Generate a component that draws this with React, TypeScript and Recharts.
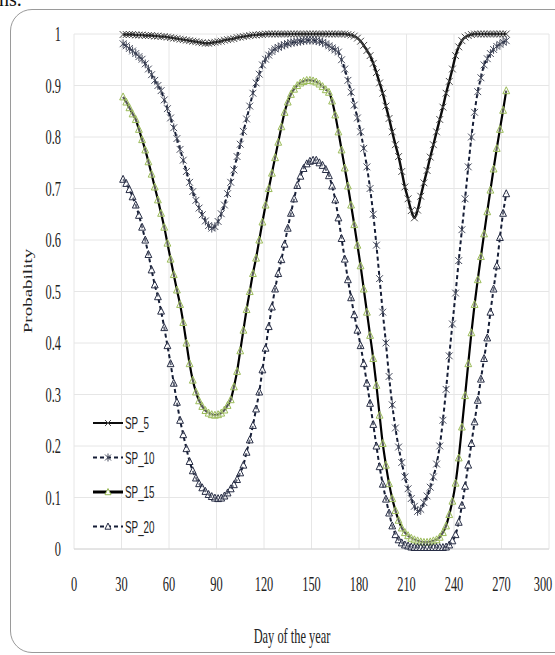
import { CartesianGrid, Line, LineChart, XAxis, YAxis } from "recharts";

// day of year (every second day)
const days = [
  31, 33, 35, 37, 39, 41, 43, 45, 47, 49,
  51, 53, 55, 57, 59, 61, 63, 65, 67, 69,
  71, 73, 75, 77, 79, 81, 83, 85, 87, 89,
  91, 93, 95, 97, 99, 101, 103, 105, 107, 109,
  111, 113, 115, 117, 119, 121, 123, 125, 127, 129,
  131, 133, 135, 137, 139, 141, 143, 145, 147, 149,
  151, 153, 155, 157, 159, 161, 163, 165, 167, 169,
  171, 173, 175, 177, 179, 181, 183, 185, 187, 189,
  191, 193, 195, 197, 199, 201, 203, 205, 207, 209,
  211, 213, 215, 217, 219, 221, 223, 225, 227, 229,
  231, 233, 235, 237, 239, 241, 243, 245, 247, 249,
  251, 253, 255, 257, 259, 261, 263, 265, 267, 269,
  271, 273,
];

const sp5 = [
  0.999, 0.999, 0.999, 0.999, 0.998, 0.998, 0.998, 0.997, 0.997, 0.997,
  0.996, 0.996, 0.995, 0.995, 0.994, 0.993, 0.992, 0.991, 0.99, 0.989,
  0.988, 0.987, 0.986, 0.985, 0.984, 0.983, 0.982, 0.982, 0.983, 0.984,
  0.985, 0.986, 0.988, 0.989, 0.99, 0.991, 0.993, 0.994, 0.995, 0.996,
  0.997, 0.998, 0.998, 0.999, 0.999, 1, 1, 1, 1, 1,
  1, 1, 1, 1, 1, 1, 1, 1, 1, 1,
  1, 1, 1, 1, 1, 1, 1, 1, 1, 1,
  1, 0.999, 0.998, 0.996, 0.992, 0.986, 0.978, 0.968, 0.958, 0.943,
  0.925, 0.905, 0.885, 0.86, 0.836, 0.81, 0.785, 0.762, 0.733, 0.703,
  0.68, 0.657, 0.643, 0.658, 0.685, 0.711, 0.735, 0.761, 0.785, 0.81,
  0.834, 0.858, 0.885, 0.908, 0.932, 0.958, 0.975, 0.987, 0.994, 0.997,
  0.999, 1, 1, 1, 1, 1, 1, 1, 1, 1,
  1, 1,
];

const sp10 = [
  0.981, 0.977, 0.972, 0.967, 0.962, 0.956, 0.951, 0.942, 0.932, 0.921,
  0.91, 0.9, 0.89, 0.872, 0.855, 0.837, 0.818, 0.797, 0.776, 0.755,
  0.733, 0.712, 0.694, 0.677, 0.662, 0.649, 0.637, 0.628, 0.623, 0.626,
  0.636, 0.651, 0.668, 0.69, 0.712, 0.736, 0.762, 0.786, 0.811, 0.835,
  0.86, 0.885, 0.905, 0.922, 0.94, 0.951, 0.959, 0.966, 0.971, 0.974,
  0.977, 0.979, 0.981, 0.983, 0.984, 0.985, 0.986, 0.987, 0.988, 0.988,
  0.988, 0.987, 0.986, 0.984, 0.981, 0.977, 0.973, 0.969, 0.965, 0.95,
  0.932, 0.91, 0.887, 0.862, 0.837, 0.81, 0.778, 0.742, 0.7, 0.65,
  0.59, 0.525, 0.46, 0.4, 0.335, 0.28, 0.235, 0.198, 0.168, 0.14,
  0.117, 0.098, 0.083, 0.073, 0.077, 0.09, 0.103, 0.12, 0.14, 0.165,
  0.2, 0.25, 0.31, 0.375, 0.437, 0.497, 0.56, 0.62, 0.68, 0.742,
  0.8, 0.848, 0.888, 0.915, 0.94, 0.952, 0.962, 0.97, 0.976, 0.98,
  0.984, 0.987,
];

const sp15 = [
  0.878, 0.868, 0.857, 0.845, 0.834, 0.815, 0.795, 0.775, 0.752, 0.728,
  0.703, 0.678, 0.652, 0.625, 0.594, 0.563, 0.533, 0.503, 0.475, 0.44,
  0.4, 0.36, 0.328, 0.305, 0.288, 0.277, 0.269, 0.264, 0.261, 0.26,
  0.261, 0.264, 0.27, 0.279, 0.29, 0.315, 0.345, 0.385, 0.425, 0.465,
  0.5, 0.535, 0.565, 0.6, 0.635, 0.668, 0.7, 0.73, 0.76, 0.79,
  0.82, 0.848, 0.868, 0.883, 0.893, 0.9, 0.905, 0.908, 0.91, 0.91,
  0.909, 0.907, 0.903, 0.898, 0.892, 0.887, 0.87, 0.843, 0.81, 0.775,
  0.74, 0.705, 0.668, 0.63, 0.59, 0.55, 0.505, 0.46, 0.415, 0.37,
  0.318, 0.26, 0.205, 0.163, 0.127, 0.098, 0.075, 0.056, 0.041, 0.032,
  0.026, 0.021, 0.018, 0.016, 0.014, 0.013, 0.013, 0.014, 0.016, 0.018,
  0.023, 0.032, 0.045, 0.067, 0.093, 0.128, 0.177, 0.237, 0.298, 0.36,
  0.42, 0.475, 0.523, 0.568, 0.612, 0.655, 0.697, 0.738, 0.778, 0.815,
  0.852, 0.89,
];

const sp20 = [
  0.718, 0.71, 0.698, 0.684, 0.668, 0.648, 0.625, 0.6, 0.572, 0.542,
  0.513, 0.49, 0.462, 0.43, 0.395, 0.36, 0.322, 0.285, 0.25, 0.222,
  0.195, 0.17, 0.152, 0.138, 0.127, 0.119, 0.112, 0.106, 0.102, 0.099,
  0.098, 0.099, 0.103, 0.109, 0.117, 0.125, 0.135, 0.148, 0.163, 0.188,
  0.212, 0.24, 0.272, 0.305, 0.348, 0.39, 0.432, 0.47, 0.505, 0.535,
  0.562, 0.592, 0.623, 0.652, 0.68, 0.706, 0.724, 0.739, 0.748, 0.753,
  0.755, 0.755, 0.75, 0.745, 0.737, 0.725, 0.705, 0.678, 0.643, 0.603,
  0.563, 0.523, 0.488, 0.455, 0.425, 0.395, 0.36, 0.322, 0.283, 0.242,
  0.2, 0.16, 0.126, 0.097, 0.07, 0.045, 0.028, 0.018, 0.012, 0.008,
  0.006, 0.004, 0.003, 0.003, 0.003, 0.003, 0.003, 0.003, 0.003, 0.003,
  0.003, 0.003, 0.004, 0.008, 0.016, 0.028, 0.052, 0.085, 0.122, 0.163,
  0.205, 0.247, 0.289, 0.33, 0.37, 0.41, 0.46, 0.505, 0.55, 0.605,
  0.652, 0.69,
];

const xTicks = [0, 30, 60, 90, 120, 150, 180, 210, 240, 270, 300];
const yTicks = [0, 0.1, 0.2, 0.3, 0.4, 0.5, 0.6, 0.7, 0.8, 0.9, 1];

const data = days.map((day, i) => ({
  day,
  SP_5: sp5[i],
  SP_10: sp10[i],
  SP_15: sp15[i],
  SP_20: sp20[i],
}));

const SERIF = '"Liberation Serif", "Times New Roman", serif';
const SQUEEZE = 0.62; // the source figure is squeezed horizontally

type Marker = "cross" | "star" | "triangle";

const series: Array<{
  key: string;
  line: string;
  width: number;
  dash?: string;
  marker: Marker;
  markerColor: string;
}> = [
  { key: "SP_5", line: "#0d0d0d", width: 2.4, marker: "cross", markerColor: "#4a4a4a" },
  { key: "SP_10", line: "#151d36", width: 2, dash: "4 3", marker: "star", markerColor: "#454a5c" },
  { key: "SP_15", line: "#000000", width: 2.2, marker: "triangle", markerColor: "#9bbb59" },
  { key: "SP_20", line: "#151d36", width: 2, dash: "4 3", marker: "triangle", markerColor: "#262c44" },
];

function markerPath(kind: Marker, cx: number, cy: number, s: number) {
  if (kind === "cross") {
    return `M${cx - s},${cy - s}L${cx + s},${cy + s}M${cx - s},${cy + s}L${cx + s},${cy - s}`;
  }
  if (kind === "star") {
    return `M${cx - s},${cy - s}L${cx + s},${cy + s}M${cx - s},${cy + s}L${cx + s},${cy - s}M${cx},${cy - s - 1}L${cx},${cy + s + 1}`;
  }
  return `M${cx},${cy - s - 0.5}L${cx + s},${cy + s * 0.9}L${cx - s},${cy + s * 0.9}Z`;
}

function makeDot(kind: Marker, color: string) {
  return (props: any) => {
    const { cx, cy, index } = props;
    if (cx == null || cy == null) return <g key={`d-${index}`} />;
    return (
      <path
        key={`d-${index}`}
        d={markerPath(kind, cx, cy, 3.4)}
        stroke={color}
        strokeWidth={1}
        fill={kind === "triangle" ? "#ffffff" : "none"}
        fillOpacity={kind === "triangle" ? 0.35 : 0}
      />
    );
  };
}

const XTick = ({ x, y, payload }: any) => (
  <text
    transform={`translate(${x},${y + 40}) scale(${SQUEEZE},1)`}
    textAnchor="middle"
    fontFamily={SERIF}
    fontSize={20}
    fill="#222"
  >
    {payload.value}
  </text>
);

const YTick = ({ x, y, payload }: any) => (
  <text
    transform={`translate(${x - 11},${y + 7}) scale(${SQUEEZE},1)`}
    textAnchor="end"
    fontFamily={SERIF}
    fontSize={20}
    fill="#222"
  >
    {String(Math.round(payload.value * 10) / 10)}
  </text>
);

function LegendBox() {
  return (
    <svg width={90} height={130}>
      {series.map((s, i) => {
        const y = 11 + i * 34.5;
        return (
          <g key={s.key}>
            <line
              x1={3}
              x2={33}
              y1={y}
              y2={y}
              stroke={s.line}
              strokeWidth={s.key === "SP_15" ? 3 : 2}
              strokeDasharray={s.dash}
            />
            <path
              d={markerPath(s.marker, 18, y, 3)}
              stroke={s.markerColor}
              strokeWidth={1}
              fill={s.marker === "triangle" ? "#ffffff" : "none"}
            />
            <text
              transform={`translate(35,${y + 6}) scale(0.58,1)`}
              fontFamily='"Liberation Sans", Arial, sans-serif'
              fontSize={17}
              fill="#222"
            >
              {s.key}
            </text>
          </g>
        );
      })}
    </svg>
  );
}

export default function App() {
  return (
    <div
      style={{
        position: "fixed",
        left: 0,
        top: 0,
        width: 555,
        height: 655,
        overflow: "hidden",
        background: "#fff",
      }}
    >
      <div
        style={{
          position: "absolute",
          left: -1,
          top: -12,
          fontFamily: SERIF,
          fontSize: 20,
          color: "#111",
          lineHeight: "23px",
        }}
      >
        ns.
      </div>
      <div
        style={{
          position: "absolute",
          left: 10,
          top: 9,
          width: 620,
          height: 642,
          border: "1px solid #9a9a9a",
          borderRadius: 22,
        }}
      />
      <div style={{ position: "absolute", left: 0, top: 0 }}>
        <LineChart
          width={555}
          height={655}
          data={data}
          margin={{ top: 34, right: 6, bottom: 56, left: 10 }}
        >
          <CartesianGrid stroke="#e6e6e6" />
          <XAxis
            type="number"
            dataKey="day"
            domain={[0, 300]}
            ticks={xTicks}
            tick={<XTick />}
            tickLine={false}
            tickSize={0}
            axisLine={{ stroke: "#d6d6d6" }}
            height={50}
            allowDataOverflow
            label={{
              content: () => (
                <text
                  transform={`translate(292,643) scale(${SQUEEZE},1)`}
                  textAnchor="middle"
                  fontFamily={SERIF}
                  fontSize={20}
                  fill="#222"
                >
                  Day of the year
                </text>
              ),
            }}
          />
          <YAxis
            type="number"
            domain={[0, 1]}
            ticks={yTicks}
            tick={<YTick />}
            tickLine={false}
            tickSize={0}
            axisLine={false}
            width={64}
            label={{
              content: () => (
                <text
                  transform={`translate(32,291) rotate(-90) scale(1,${SQUEEZE})`}
                  textAnchor="middle"
                  fontFamily={SERIF}
                  fontSize={19}
                  fill="#222"
                >
                  Probability
                </text>
              ),
            }}
          />
          {series.map((s) => (
            <Line
              key={s.key}
              dataKey={s.key}
              type="monotone"
              stroke={s.line}
              strokeWidth={s.width}
              strokeDasharray={s.dash}
              dot={makeDot(s.marker, s.markerColor)}
              activeDot={false}
              isAnimationActive={false}
            />
          ))}
        </LineChart>
      </div>
      <div style={{ position: "absolute", left: 90, top: 412 }}>
        <LegendBox />
      </div>
    </div>
  );
}
